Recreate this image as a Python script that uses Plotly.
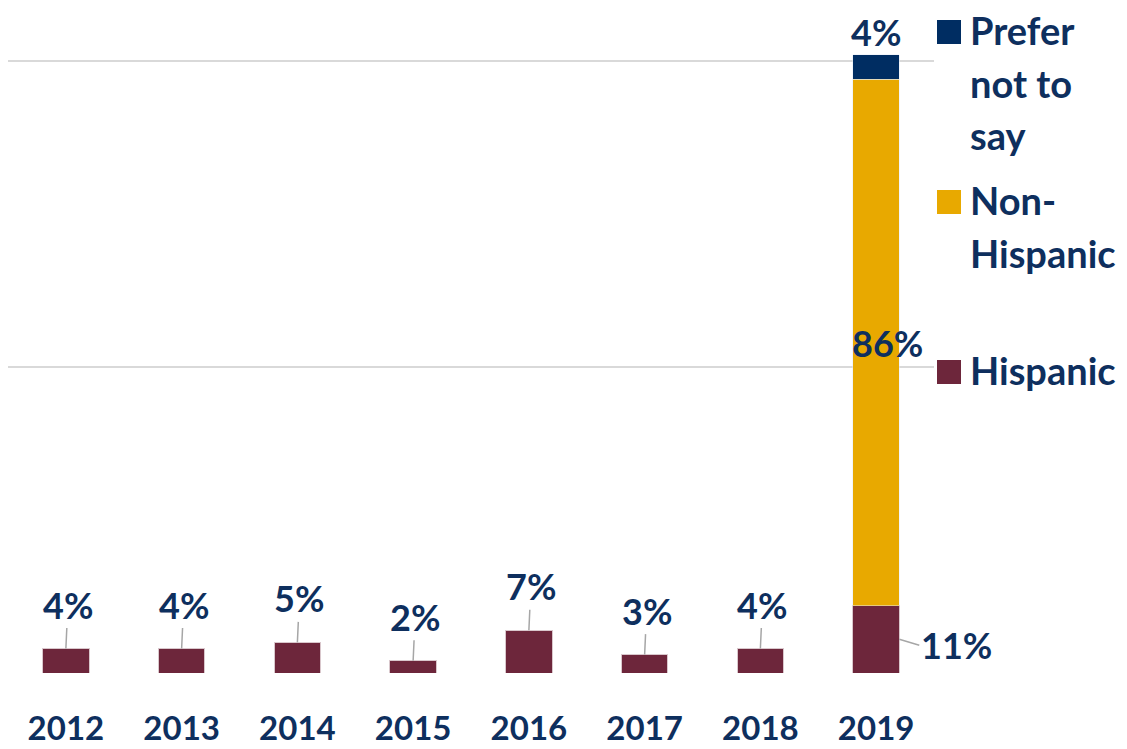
import plotly.graph_objects as go

years = ['2012', '2013', '2014', '2015', '2016', '2017', '2018', '2019']
hispanic = [4, 4, 5, 2, 7, 3, 4, 11]
non_hispanic = [None, None, None, None, None, None, None, 86]
prefer_not = [None, None, None, None, None, None, None, 4]

MAROON = '#6D263B'
GOLD = '#E8A900'
NAVY = '#002D62'
TXT = '#0E2F5E'
FONT = 'Lato'

fig = go.Figure()
fig.add_trace(go.Bar(x=years, y=hispanic, name='Hispanic', marker_color=MAROON,
                     marker_line=dict(color='#d9c7cc', width=1)))
fig.add_trace(go.Bar(x=years, y=non_hispanic, name='Non-Hispanic', marker_color=GOLD))
fig.add_trace(go.Bar(x=years, y=prefer_not, name='Prefer not to say', marker_color=NAVY))

lab_font = dict(family=FONT, size=36, color=TXT, weight='bold')

# value labels for the small bars, with short leader lines
for i, v in enumerate(hispanic[:-1]):
    fig.add_annotation(x=i, y=v, text=f'{v}%', showarrow=True, arrowhead=0,
                       arrowwidth=1.5, arrowcolor='#a6a6a6', ax=2, ay=-44, font=lab_font)

# 2019 labels
fig.add_annotation(x=7.2, y=hispanic[-1] / 2, text=f'{hispanic[-1]}%', showarrow=True,
                   arrowhead=0, arrowwidth=1.5, arrowcolor='#a6a6a6', ax=20, ay=6,
                   xanchor='left', font=lab_font)
fig.add_annotation(x=7.1, y=hispanic[-1] + non_hispanic[-1] / 2, text=f'{non_hispanic[-1]}%',
                   showarrow=False, font=lab_font)
fig.add_annotation(x=7, y=hispanic[-1] + non_hispanic[-1] + prefer_not[-1], text=f'{prefer_not[-1]}%',
                   showarrow=False, yanchor='bottom', yshift=-1, font=lab_font)

# legend drawn by hand (uneven spacing in the original); positions in page pixels
legend_items = [(['Prefer', 'not to', 'say'], NAVY, [32, 85, 137]),
                (['Non-', 'Hispanic'], GOLD, [202, 255]),
                (['Hispanic'], MAROON, [372])]
OFF, L, PW, PH = 8, 0, 926, 665


def px(x):
    return (x - OFF - L) / PW


def py(y):
    return (PH - (y - OFF)) / PH


for lines, col, ys in legend_items:
    fig.add_shape(type='rect', xref='paper', yref='paper',
                  x0=px(937), x1=px(961), y0=py(ys[0] + 12), y1=py(ys[0] - 12),
                  fillcolor=col, line_width=0)
    for txt, y in zip(lines, ys):
        fig.add_annotation(xref='paper', yref='paper', x=px(968), y=py(y - 2),
                           text=txt, showarrow=False, xanchor='left', yanchor='middle',
                           font=dict(family=FONT, size=38, color=TXT, weight='bold'))

fig.update_layout(
    barmode='stack', bargap=0.6, showlegend=False,
    width=1127, height=749,
    margin=dict(l=L, r=1127 - PW - L, t=0, b=749 - PH, autoexpand=False),
    plot_bgcolor='white', paper_bgcolor='white',
    font=dict(family=FONT, color=TXT),
    xaxis=dict(range=[-0.5, 7.5], tickfont=dict(family=FONT, size=33, color=TXT, weight='bold'),
               ticklabelstandoff=33, showgrid=False, showline=False),
    yaxis=dict(range=[0, 108.66], tickvals=[0, 50, 100], showticklabels=False,
               gridcolor='#d9d9d9', gridwidth=2, zeroline=False),
)

fig.write_html('out.html')
